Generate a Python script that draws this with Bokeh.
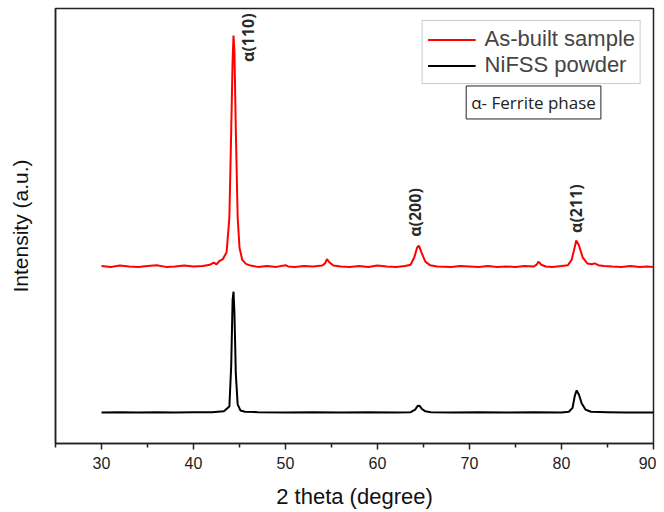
from math import pi
from bokeh.plotting import figure
from bokeh.models import Range1d, FixedTicker, Legend, LegendItem, Label
from bokeh.core.properties import value
from bokeh.embed import file_html
from bokeh.resources import INLINE

# As-built sample (red)
asb_x = [30, 31, 32, 33, 34, 35, 36, 37, 38, 39, 40, 41, 41.8, 42.2, 42.5, 42.8, 43.2, 43.6, 43.9, 44.1, 44.25, 44.35,
         44.45, 44.6, 44.8, 45.0, 45.3, 45.7, 46.2, 47, 48, 49, 50, 50.3, 51, 52, 53, 54, 54.3, 54.5, 54.8, 55.2, 56,
         57, 58, 59, 60, 61, 62, 63, 63.6, 64.0, 64.3, 64.5, 64.8, 65.2, 65.7, 66.5, 68, 69, 70, 71, 72, 73, 74, 75,
         76, 77, 77.3, 77.5, 77.8, 78.3, 79, 80, 80.7, 81.1, 81.4, 81.6, 81.9, 82.3, 82.8, 83.3, 83.6, 84.0, 84.6,
         85.5, 86.5, 87.5, 88.5, 89.3, 90]
asb_y = [408, 406, 409, 407, 406, 408, 410, 406, 407, 409, 407, 408, 411, 416, 412, 419, 424, 440, 520, 720, 880, 938,
         900, 720, 520, 450, 422, 413, 409, 406, 408, 406, 410, 407, 406, 408, 407, 409, 414, 424, 416, 409, 407,
         406, 408, 406, 409, 407, 406, 408, 411, 428, 450, 455, 438, 418, 410, 407, 406, 408, 407, 406, 408, 406,
         407, 406, 408, 407, 411, 418, 411, 407, 406, 408, 410, 422, 448, 467, 455, 428, 414, 412, 414, 410, 408,
         407, 406, 408, 406, 407, 406]

# NiFSS powder (black)
pow_x = [30, 32, 34, 36, 38, 40, 42, 43.3, 43.9, 44.1, 44.25, 44.35, 44.45, 44.6, 44.8, 45.1, 45.6, 47, 50, 53, 56,
         59, 62, 63.6, 64.1, 64.35, 64.55, 64.8, 65.2, 65.8, 68, 71, 74, 77, 80, 80.8, 81.2, 81.45, 81.65, 81.9,
         82.2, 82.6, 83.2, 85, 87, 90]
pow_y = [71, 72, 71, 72, 71, 72, 72, 74, 85, 180, 330, 349, 300, 160, 90, 76, 73, 72, 71, 72, 71, 72, 71, 72, 78, 86,
         87, 80, 74, 72, 71, 72, 71, 72, 71, 73, 82, 110, 122, 112, 92, 78, 73, 72, 71, 71]

peak_labels = ["α(110)", "α(200)", "α(211)"]
peak_label_x = [45.9, 64.13, 81.63]
peak_label_y = [933, 531, 540]

p = figure(frame_width=598, frame_height=435, output_backend="svg", toolbar_location=None,
           x_range=Range1d(25, 90), y_range=Range1d(0, 1000),
           min_border_left=55, min_border_right=3, min_border_top=8, min_border_bottom=10)
p.background_fill_color = "white"
p.border_fill_color = "white"
p.grid.visible = False
p.outline_line_color = "#222222"
p.outline_line_width = 1.5

r_red = p.line(asb_x, asb_y, line_color="#ff0000", line_width=2)
r_blk = p.line(pow_x, pow_y, line_color="#000000", line_width=2)

p.text(x=peak_label_x, y=peak_label_y, text=peak_labels, angle=pi / 2,
       text_align="center", text_baseline="middle",
       text_font=value("Open Sans"), text_font_style="bold", text_font_size="16px", text_color="#2a2a2a")

# x axis
xa = p.xaxis[0]
xa.ticker = FixedTicker(ticks=[30, 40, 50, 60, 70, 80, 90], minor_ticks=[25, 35, 45, 55, 65, 75, 85])
xa.axis_line_color = "#222222"
xa.axis_line_width = 1.5
xa.major_tick_line_color = "#222222"
xa.major_tick_line_width = 1.5
xa.minor_tick_line_color = "#222222"
xa.minor_tick_line_width = 1.5
xa.major_tick_out = 6
xa.major_tick_in = 0
xa.minor_tick_out = 4
xa.minor_tick_in = 0
xa.major_label_text_font = "Liberation Sans"
xa.major_label_text_font_size = "16px"
xa.major_label_text_color = "#222222"
xa.major_label_standoff = 7
xa.axis_label = "2 theta (degree)"
xa.axis_label_text_font = "Liberation Sans"
xa.axis_label_text_font_size = "22px"
xa.axis_label_text_font_style = "normal"
xa.axis_label_text_color = "#111111"
xa.axis_label_standoff = 12

# y axis
ya = p.yaxis[0]
ya.ticker = FixedTicker(ticks=[])
ya.major_tick_line_color = None
ya.minor_tick_line_color = None
ya.major_label_text_font_size = "0px"
ya.axis_line_color = "#222222"
ya.axis_line_width = 1.5
ya.axis_label = "Intensity (a.u.)"
ya.axis_label_text_font = "Liberation Sans"
ya.axis_label_text_font_size = "21px"
ya.axis_label_text_font_style = "normal"
ya.axis_label_text_color = "#111111"
ya.axis_label_standoff = 24

legend = Legend(items=[LegendItem(label="As-built sample", renderers=[r_red]),
                       LegendItem(label="NiFSS powder", renderers=[r_blk])],
                location="top_right", margin=12, padding=5, spacing=0,
                glyph_width=48, glyph_height=25, label_height=25, label_standoff=9,
                label_text_font="Liberation Sans", label_text_font_size="22px",
                border_line_color="#999999", border_line_width=1,
                background_fill_color="white", background_fill_alpha=1)
p.add_layout(legend)

box = Label(x=76.96, y=784, text="α- Ferrite phase", text_align="center", text_baseline="middle",
            text_font="Open Sans", text_font_size="17px", text_color="#222222",
            border_line_color="#222222", border_line_width=1, background_fill_color="white",
            padding=5)
p.add_layout(box)

open("out.html", "w").write(file_html(p, INLINE))
